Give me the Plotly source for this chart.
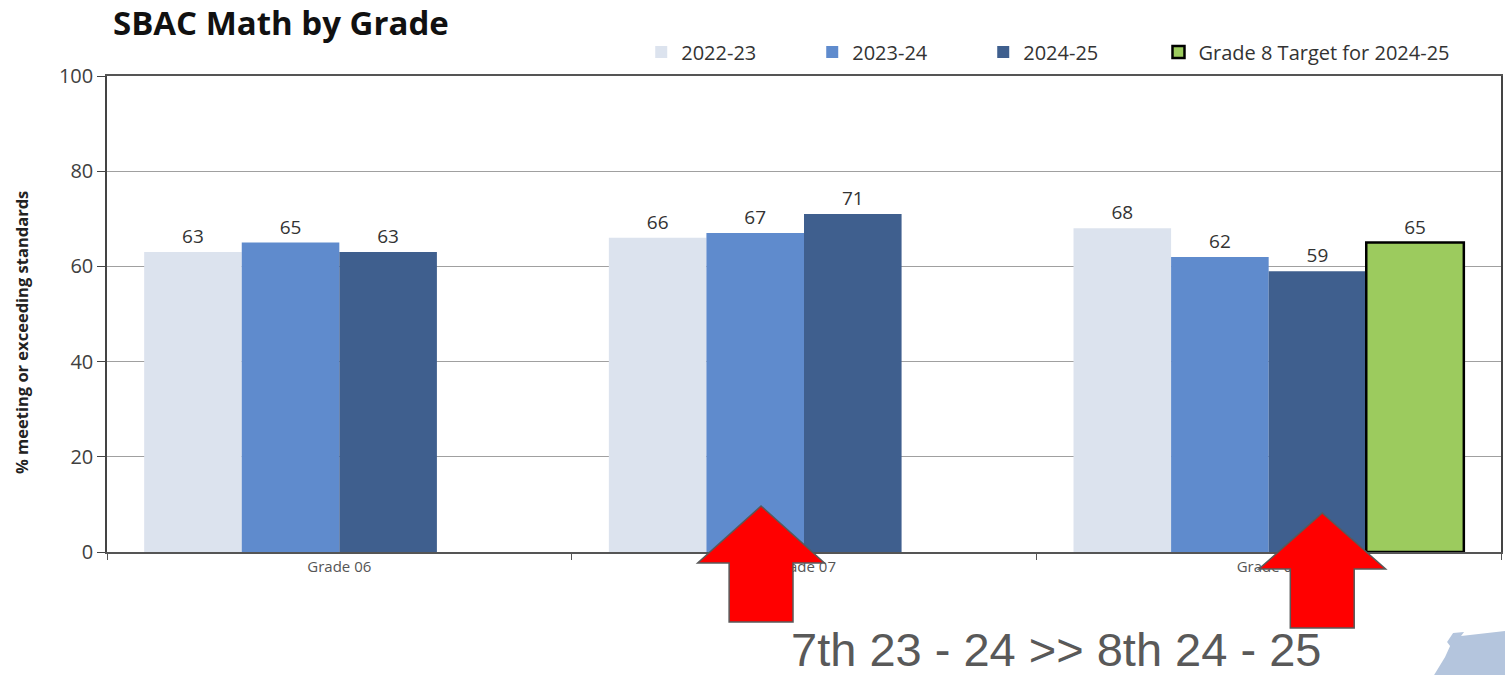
import plotly.graph_objects as go

categories = ["Grade 06", "Grade 07", "Grade 08"]
series_names = ["2022-23", "2023-24", "2024-25", "Grade 8 Target for 2024-25"]
v_2022_23 = [63, 66, 68]
v_2023_24 = [65, 67, 62]
v_2024_25 = [63, 71, 59]
v_target = [None, None, 65]
colors = ["#dce3ee", "#5f8bcd", "#3f5f8e", "#9ccb5e"]

W, H = 1507, 675
L, R, T, B = 107, 4, 76, 123
PW, PH = W - L - R, H - T - B

def px(x, y):
    return (x - L) / PW, (H - B - y) / PH

fig = go.Figure()
for name, vals, col in zip(series_names, [v_2022_23, v_2023_24, v_2024_25, v_target], colors):
    is_t = name.startswith("Grade 8")
    fig.add_trace(go.Bar(
        name=name, x=categories, y=vals,
        legend="legend2" if is_t else "legend",
        marker=dict(color=col, line=dict(color="#000000" if is_t else col, width=2.5 if is_t else 0)),
        text=[("" if v is None else str(v)) for v in vals],
        textposition="outside", cliponaxis=False,
        textfont=dict(family="Open Sans", size=19, color="#333333"),
    ))

def arrow(tipx, tipy, headw, heady, shaftw, boty):
    pts = [(tipx, tipy), (tipx + headw / 2, heady), (tipx + shaftw / 2, heady),
           (tipx + shaftw / 2, boty), (tipx - shaftw / 2, boty), (tipx - shaftw / 2, heady),
           (tipx - headw / 2, heady)]
    p = [px(*q) for q in pts]
    return "M" + " L".join(f"{a:.5f},{b:.5f}" for a, b in p) + " Z"

shapes = []
for a in [(762, 506, 127, 563, 64, 622), (1324, 513, 127, 569, 64, 628)]:
    shapes.append(dict(type="path", xref="paper", yref="paper", path=arrow(*a),
                       fillcolor="#ff0000", line=dict(color="#595959", width=1.5), layer="above"))

logo = [(1455, 633), (1466, 632), (1463, 636), (1507, 631), (1507, 675), (1436, 675),
        (1447, 657), (1452, 646), (1449, 642)]
lp = [px(*q) for q in logo]
shapes.append(dict(type="path", xref="paper", yref="paper",
                   path="M" + " L".join(f"{a:.5f},{b:.5f}" for a, b in lp) + " Z",
                   fillcolor="#b4c5dd", line=dict(width=0), layer="above"))

leg_common = dict(orientation="h", xanchor="left", y=px(0, 52)[1], yanchor="middle",
                  font=dict(size=20, color="#333333"), bgcolor="rgba(0,0,0,0)")

fig.update_layout(
    width=W, height=H,
    margin=dict(l=L, r=R, t=T, b=B),
    paper_bgcolor="white", plot_bgcolor="white",
    barmode="group", bargap=0.16, bargroupgap=0,
    font=dict(family="Open Sans", color="#333333"),
    legend=dict(x=px(642, 0)[0], entrywidth=126, entrywidthmode="pixels", **leg_common),
    legend2=dict(x=px(1160, 0)[0], **leg_common),
    xaxis=dict(showline=True, mirror=True, linecolor="#555555", linewidth=1.5,
               ticks="outside", tickson="boundaries", ticklen=6, tickcolor="#555555",
               tickfont=dict(size=15, color="#555555"), showgrid=False),
    yaxis=dict(range=[0, 100], dtick=20, showline=True, mirror=True, linecolor="#444444", linewidth=1.5,
               ticks="outside", ticklen=8, tickcolor="#444444", showgrid=True, gridcolor="#a0a0a0",
               gridwidth=1, tickfont=dict(size=20, color="#404040")),
    shapes=shapes,
    annotations=[
        dict(text="<b>SBAC Math by Grade</b>", xref="paper", yref="paper",
             x=px(111, 0)[0], y=px(0, 23)[1], xanchor="left", yanchor="middle",
             showarrow=False, font=dict(size=33, color="#111111", family="Open Sans")),
        dict(text="<b>% meeting or exceeding standards</b>", xref="paper", yref="paper",
             x=px(21, 0)[0], y=px(0, 333)[1], xanchor="center", yanchor="middle", textangle=-90,
             showarrow=False, font=dict(size=16.5, color="#222222", family="Open Sans")),
        dict(text="7th 23 - 24 >> 8th 24 - 25", xref="paper", yref="paper",
             x=px(1057, 0)[0], y=px(0, 649)[1], xanchor="center", yanchor="middle",
             showarrow=False, font=dict(family="Liberation Sans", size=47, color="#595959")),
    ],
)

fig.write_html("out.html")
